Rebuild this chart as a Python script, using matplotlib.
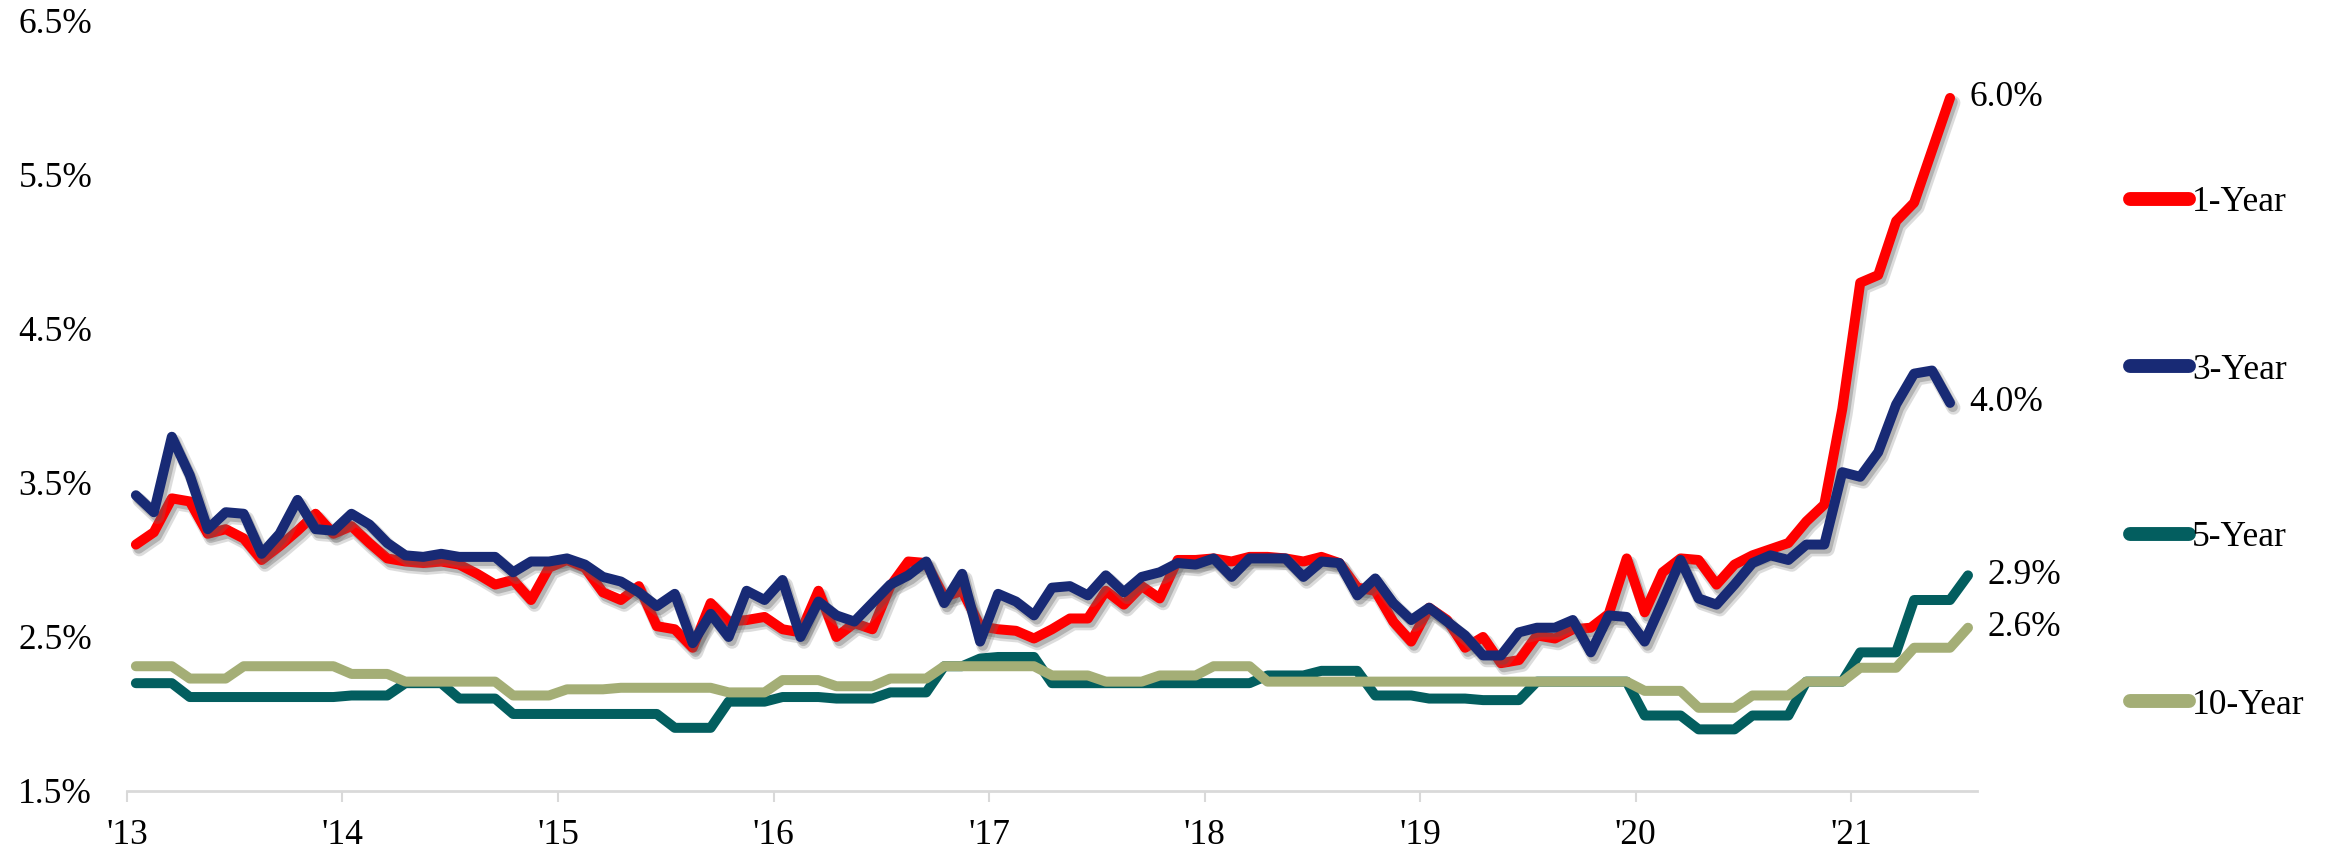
import numpy as np
import matplotlib.pyplot as plt
import matplotlib.patheffects as pe

# monthly rates, Jan 2013 onward (%)
one_year = [
    3.10, 3.18, 3.40, 3.38, 3.17, 3.20, 3.14, 3.00, 3.09, 3.19, 3.30, 3.17,
    3.22, 3.11, 3.01, 2.99, 2.98, 2.99, 2.97, 2.91, 2.84, 2.87, 2.74, 2.95,
    3.00, 2.95, 2.79, 2.74, 2.83, 2.57, 2.55, 2.43, 2.72, 2.60, 2.61, 2.63,
    2.55, 2.53, 2.80, 2.50, 2.59, 2.55, 2.83, 2.99, 2.98, 2.76, 2.80, 2.57,
    2.55, 2.54, 2.49, 2.55, 2.62, 2.62, 2.80, 2.71, 2.83, 2.75, 3.00, 3.00,
    3.01, 2.99, 3.02, 3.02, 3.01, 2.99, 3.02, 2.98, 2.82, 2.80, 2.60, 2.47,
    2.69, 2.61, 2.43, 2.50, 2.33, 2.35, 2.51, 2.49, 2.55, 2.56, 2.65, 3.01,
    2.66, 2.92, 3.01, 3.00, 2.84, 2.97, 3.03, 3.07, 3.11, 3.25, 3.36, 3.98,
    4.80, 4.85, 5.20, 5.32, 5.66, 6.00,
]
three_year = [
    3.42, 3.31, 3.80, 3.55, 3.20, 3.31, 3.30, 3.04, 3.17, 3.39, 3.20, 3.19,
    3.30, 3.23, 3.11, 3.03, 3.02, 3.04, 3.02, 3.02, 3.02, 2.92, 2.99, 2.99,
    3.01, 2.97, 2.89, 2.86, 2.79, 2.70, 2.78, 2.46, 2.65, 2.50, 2.80, 2.74,
    2.87, 2.50, 2.73, 2.64, 2.60, 2.72, 2.84, 2.90, 2.99, 2.72, 2.91, 2.47,
    2.78, 2.73, 2.64, 2.82, 2.83, 2.77, 2.90, 2.79, 2.89, 2.92, 2.98, 2.97,
    3.01, 2.89, 3.01, 3.01, 3.01, 2.89, 2.99, 2.98, 2.77, 2.88, 2.72, 2.61,
    2.69, 2.60, 2.51, 2.38, 2.38, 2.53, 2.56, 2.56, 2.61, 2.40, 2.64, 2.63,
    2.47, 2.73, 3.00, 2.75, 2.71, 2.84, 2.98, 3.03, 3.00, 3.10, 3.10, 3.57,
    3.54, 3.70, 4.01, 4.21, 4.23, 4.02,
]
five_year = [
    2.20, 2.20, 2.20, 2.11, 2.11, 2.11, 2.11, 2.11, 2.11, 2.11, 2.11, 2.11,
    2.12, 2.12, 2.12, 2.20, 2.20, 2.20, 2.10, 2.10, 2.10, 2.00, 2.00, 2.00,
    2.00, 2.00, 2.00, 2.00, 2.00, 2.00, 1.91, 1.91, 1.91, 2.08, 2.08, 2.08,
    2.11, 2.11, 2.11, 2.10, 2.10, 2.10, 2.14, 2.14, 2.14, 2.31, 2.31, 2.36,
    2.37, 2.37, 2.37, 2.20, 2.20, 2.20, 2.20, 2.20, 2.20, 2.20, 2.20, 2.20,
    2.20, 2.20, 2.20, 2.25, 2.25, 2.25, 2.28, 2.28, 2.28, 2.12, 2.12, 2.12,
    2.10, 2.10, 2.10, 2.09, 2.09, 2.09, 2.21, 2.21, 2.21, 2.21, 2.21, 2.21,
    1.99, 1.99, 1.99, 1.90, 1.90, 1.90, 1.99, 1.99, 1.99, 2.21, 2.21, 2.21,
    2.40, 2.40, 2.40, 2.74, 2.74, 2.74, 2.90,
]
ten_year = [
    2.31, 2.31, 2.31, 2.23, 2.23, 2.23, 2.31, 2.31, 2.31, 2.31, 2.31, 2.31,
    2.26, 2.26, 2.26, 2.21, 2.21, 2.21, 2.21, 2.21, 2.21, 2.12, 2.12, 2.12,
    2.16, 2.16, 2.16, 2.17, 2.17, 2.17, 2.17, 2.17, 2.17, 2.14, 2.14, 2.14,
    2.22, 2.22, 2.22, 2.18, 2.18, 2.18, 2.23, 2.23, 2.23, 2.31, 2.31, 2.31,
    2.31, 2.31, 2.31, 2.25, 2.25, 2.25, 2.21, 2.21, 2.21, 2.25, 2.25, 2.25,
    2.31, 2.31, 2.31, 2.21, 2.21, 2.21, 2.21, 2.21, 2.21, 2.21, 2.21, 2.21,
    2.21, 2.21, 2.21, 2.21, 2.21, 2.21, 2.21, 2.21, 2.21, 2.21, 2.21, 2.21,
    2.15, 2.15, 2.15, 2.04, 2.04, 2.04, 2.12, 2.12, 2.12, 2.21, 2.21, 2.21,
    2.30, 2.30, 2.30, 2.43, 2.43, 2.43, 2.56,
]
year_labels = ["'13", "'14", "'15", "'16", "'17", "'18", "'19", "'20", "'21"]
y_ticks = [1.5, 2.5, 3.5, 4.5, 5.5, 6.5]

RED = "#ff0000"
NAVY = "#182a75"
TEAL = "#035e5f"
OLIVE = "#a4ae76"

plt.rcParams["font.family"] = ["Liberation Serif", "DejaVu Serif"]
FS = 25.5

fig = plt.figure(figsize=(23.46, 8.59), dpi=100)
ax = fig.add_axes([0.0541, 0.0792, 0.7886, 0.8964])

shadow = [
    pe.SimpleLineShadow(offset=(2.5, -3.5), shadow_color="#777777", alpha=0.25, linewidth=10),
    pe.SimpleLineShadow(offset=(2.0, -3.0), shadow_color="#555555", alpha=0.3),
    pe.Normal(),
]

series = [
    ("5-Year", five_year, TEAL, 2, None),
    ("10-Year", ten_year, OLIVE, 3, None),
    ("1-Year", one_year, RED, 4, shadow),
    ("3-Year", three_year, NAVY, 5, shadow),
]

lines = {}
for name, vals, color, z, effects in series:
    x = np.arange(len(vals))
    (ln,) = ax.plot(x, vals, color=color, lw=7.2, solid_capstyle="round",
                    solid_joinstyle="round", zorder=z, path_effects=effects)
    lines[name] = ln
    ax.annotate(f"{vals[-1]:.1f}%", xy=(x[-1], vals[-1]), xytext=(14, 0),
                textcoords="offset points", ha="left", va="center",
                fontsize=FS, color="black")

ax.set_xlim(-0.5, 102.5)
ax.set_ylim(1.5, 6.5)

ax.set_xticks([12 * k - 0.5 for k in range(len(year_labels))])
ax.set_xticklabels(year_labels, fontsize=FS)
ax.set_yticks(y_ticks)
ax.set_yticklabels([f"{v:.1f}%" for v in y_ticks], fontsize=FS)

ax.tick_params(axis="x", length=8, width=1.5, color="#d9d9d9", pad=12)
ax.tick_params(axis="y", length=0, pad=25)

for side in ["top", "right", "left"]:
    ax.spines[side].set_visible(False)
ax.spines["bottom"].set_color("#d9d9d9")
ax.spines["bottom"].set_linewidth(2)

order = ["1-Year", "3-Year", "5-Year", "10-Year"]
leg = ax.legend([lines[k] for k in order], order, loc="upper left",
                bbox_to_anchor=(0.902, 0.80), bbox_transform=fig.transFigure,
                frameon=False, fontsize=FS, handlelength=1.65,
                handletextpad=0.1, labelspacing=3.8, borderaxespad=0)
for h in leg.legend_handles:
    h.set_linewidth(10)
    h.set_path_effects([])

fig.savefig("out.png", dpi=100)
